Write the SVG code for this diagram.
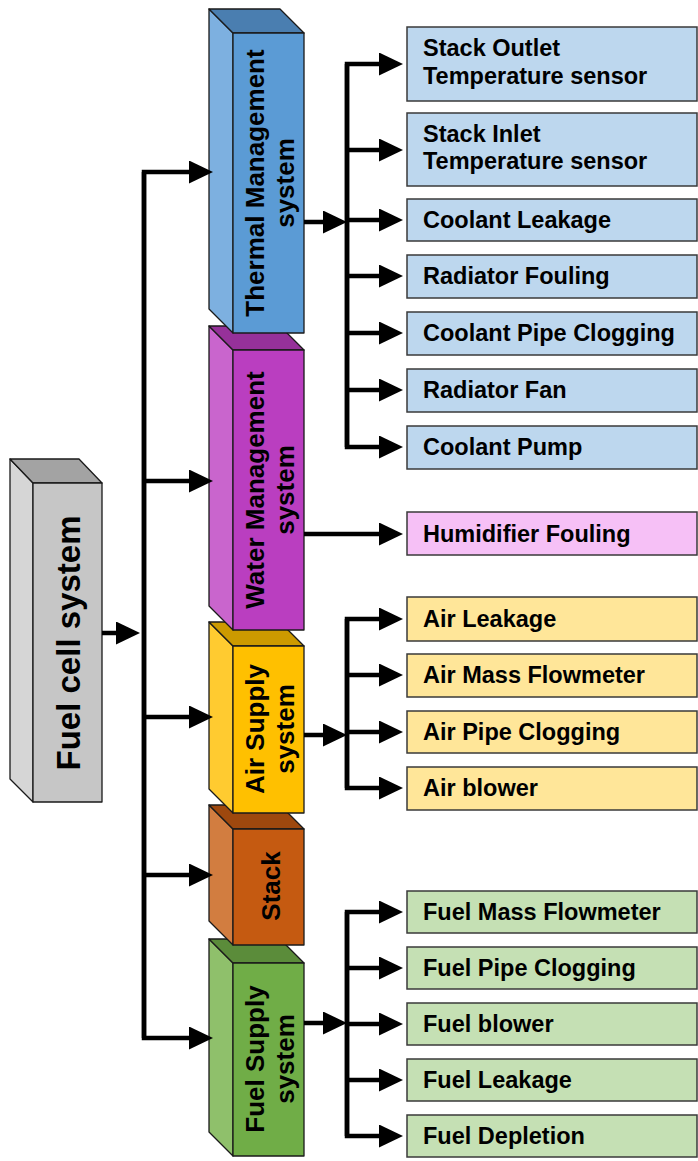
<svg xmlns="http://www.w3.org/2000/svg" width="698" height="1161" viewBox="0 0 698 1161">
<defs>
<marker id="ah" markerUnits="userSpaceOnUse" markerWidth="24" markerHeight="23" refX="14" refY="11.5" orient="auto">
<path d="M0,0 L24,11.5 L0,23 Z" fill="#000"/>
</marker>
<style>
.blk polygon{stroke:#1a1a1a;stroke-width:1.3;stroke-linejoin:round}
.bt{font-family:"Liberation Sans",Arial,sans-serif;font-weight:bold;font-size:26px;fill:#000;text-anchor:middle}
.box rect{stroke:#3a3a3a;stroke-width:1.5}
.lt{font-family:"Liberation Sans",Arial,sans-serif;font-weight:bold;font-size:23.5px;fill:#000}
.th{fill:#bdd7ee}.wa{fill:#f6c0f6}.ai{fill:#ffe699}.fu{fill:#c5e0b4}
.cn path{fill:none;stroke:#000;stroke-width:4.5;stroke-linejoin:miter;marker-end:url(#ah)}
</style>
</defs>

<g id="node-fuel-supply" class="blk">
<polygon points="209,939 233,963 233,1156 209,1132" fill="#8fc06b"/>
<polygon points="209,939 280,939 304,963 233,963" fill="#5b8c3a"/>
<polygon points="233,963 304,963 304,1156 233,1156" fill="#70ad47"/>
<text class="bt" transform="translate(268,1059) rotate(-90)"><tspan x="0" y="-4">Fuel Supply</tspan><tspan x="0" y="26">system</tspan></text>
</g>
<g id="node-stack" class="blk">
<polygon points="209,805 233,829 233,945 209,921" fill="#d27d40"/>
<polygon points="209,805 280,805 304,829 233,829" fill="#9e480e"/>
<polygon points="233,829 304,829 304,945 233,945" fill="#c55a11"/>
<text class="bt" transform="translate(268,886) rotate(-90)"><tspan x="0" y="12">Stack</tspan></text>
</g>
<g id="node-air-supply" class="blk">
<polygon points="209,622 233,646 233,813 209,789" fill="#ffcb30"/>
<polygon points="209,622 280,622 304,646 233,646" fill="#cc9a00"/>
<polygon points="233,646 304,646 304,813 233,813" fill="#ffc000"/>
<text class="bt" transform="translate(268,729) rotate(-90)"><tspan x="0" y="-4">Air Supply</tspan><tspan x="0" y="26">system</tspan></text>
</g>
<g id="node-water" class="blk">
<polygon points="209,326 233,350 233,630 209,606" fill="#c965cd"/>
<polygon points="209,326 280,326 304,350 233,350" fill="#96319a"/>
<polygon points="233,350 304,350 304,630 233,630" fill="#ba3ec0"/>
<text class="bt" transform="translate(268,490) rotate(-90)"><tspan x="0" y="-4">Water Management</tspan><tspan x="0" y="26">system</tspan></text>
</g>
<g id="node-thermal" class="blk">
<polygon points="209,9 233,33 233,333 209,309" fill="#7db0e0"/>
<polygon points="209,9 280,9 304,33 233,33" fill="#4a7eb0"/>
<polygon points="233,33 304,33 304,333 233,333" fill="#5b9bd5"/>
<text class="bt" transform="translate(268,183) rotate(-90)"><tspan x="0" y="-4">Thermal Management</tspan><tspan x="0" y="26">system</tspan></text>
</g>
<g id="node-fuel-cell" class="blk">
<polygon points="10,459 33,483 33,802 10,779" fill="#d6d6d6"/>
<polygon points="10,459 79,459 102,483 33,483" fill="#a3a3a3"/>
<polygon points="33,483 102,483 102,802 33,802" fill="#c6c6c6"/>
<text class="bt" style="font-size:33px" transform="translate(67,643) rotate(-90)"><tspan x="0" y="13">Fuel cell system</tspan></text>
</g>

<g id="leaf-1" class="box"><rect class="th" x="407" y="27" width="290" height="74"/><text class="lt" x="423" y="56">Stack Outlet</text><text class="lt" x="423" y="84">Temperature sensor</text></g>
<g id="leaf-2" class="box"><rect class="th" x="407" y="113" width="290" height="73"/><text class="lt" x="423" y="142">Stack Inlet</text><text class="lt" x="423" y="169">Temperature sensor</text></g>
<g id="leaf-3" class="box"><rect class="th" x="407" y="199" width="290" height="42"/><text class="lt" x="423" y="228">Coolant Leakage</text></g>
<g id="leaf-4" class="box"><rect class="th" x="407" y="255" width="290" height="43"/><text class="lt" x="423" y="284">Radiator Fouling</text></g>
<g id="leaf-5" class="box"><rect class="th" x="407" y="312" width="290" height="43"/><text class="lt" x="423" y="341">Coolant Pipe Clogging</text></g>
<g id="leaf-6" class="box"><rect class="th" x="407" y="369" width="290" height="43"/><text class="lt" x="423" y="398">Radiator Fan</text></g>
<g id="leaf-7" class="box"><rect class="th" x="407" y="426" width="290" height="43"/><text class="lt" x="423" y="455">Coolant Pump</text></g>
<g id="leaf-8" class="box"><rect class="wa" x="407" y="512" width="290" height="43"/><text class="lt" x="423" y="542">Humidifier Fouling</text></g>
<g id="leaf-9" class="box"><rect class="ai" x="407" y="597" width="290" height="44"/><text class="lt" x="423" y="627">Air  Leakage</text></g>
<g id="leaf-10" class="box"><rect class="ai" x="407" y="654" width="290" height="43"/><text class="lt" x="423" y="683">Air  Mass Flowmeter</text></g>
<g id="leaf-11" class="box"><rect class="ai" x="407" y="711" width="290" height="42"/><text class="lt" x="423" y="740">Air  Pipe Clogging</text></g>
<g id="leaf-12" class="box"><rect class="ai" x="407" y="767" width="290" height="43"/><text class="lt" x="423" y="796">Air  blower</text></g>
<g id="leaf-13" class="box"><rect class="fu" x="407" y="891" width="290" height="42"/><text class="lt" x="423" y="920">Fuel Mass Flowmeter</text></g>
<g id="leaf-14" class="box"><rect class="fu" x="407" y="947" width="290" height="42"/><text class="lt" x="423" y="976">Fuel Pipe Clogging</text></g>
<g id="leaf-15" class="box"><rect class="fu" x="407" y="1003" width="290" height="42"/><text class="lt" x="423" y="1032">Fuel blower</text></g>
<g id="leaf-16" class="box"><rect class="fu" x="407" y="1059" width="290" height="42"/><text class="lt" x="423" y="1088">Fuel Leakage</text></g>
<g id="leaf-17" class="box"><rect class="fu" x="407" y="1115" width="290" height="42"/><text class="lt" x="423" y="1144">Fuel Depletion</text></g>

<g id="connectors" class="cn">
<path d="M102,633 H130"/>
<path d="M144,1038 V172 H203"/>
<path d="M144,172 V1038 H203"/>
<path d="M144,481 H203"/>
<path d="M144,717 H203"/>
<path d="M144,875 H203"/>
<path d="M304,222 H337"/>
<path d="M347,447 V64 H393"/>
<path d="M347,64 V447 H393"/>
<path d="M347,150 H393"/>
<path d="M347,220 H393"/>
<path d="M347,276 H393"/>
<path d="M347,333 H393"/>
<path d="M347,390 H393"/>
<path d="M304,534 H393"/>
<path d="M304,735 H337"/>
<path d="M347,788 V619 H393"/>
<path d="M347,619 V788 H393"/>
<path d="M347,675 H393"/>
<path d="M347,732 H393"/>
<path d="M304,1023 H337"/>
<path d="M347,1136 V912 H393"/>
<path d="M347,912 V1136 H393"/>
<path d="M347,968 H393"/>
<path d="M347,1024 H393"/>
<path d="M347,1080 H393"/>
</g>
</svg>
